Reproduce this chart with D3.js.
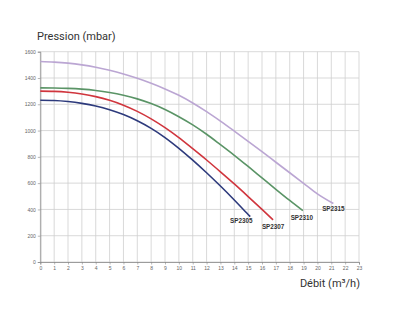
<!DOCTYPE html>
<html>
<head>
<meta charset="utf-8">
<script src="https://cdn.jsdelivr.net/npm/d3@7"></script>
<style>
html,body{margin:0;padding:0;background:#fff;}
svg{display:block;}
</style>
</head>
<body>
<svg id="chart" width="400" height="326"></svg>
<script>
// ---- data ----
const xTicks = d3.range(0, 24);
const yTicks = d3.range(0, 1601, 200);
const seriesNames = ["SP2305", "SP2307", "SP2310", "SP2315"];
const flowSP2305 = [0,1,2,3,4,5,6,7,8,9,10,11,12,13,14,15,15.15];
const presSP2305 = [1231,1229,1221,1207,1187,1159,1122,1075,1017,947,865,775,679,578,472,361,345];
const flowSP2307 = [0,1,2,3,4,5,6,7,8,9,10,11,12,13,14,15,16,16.8];
const presSP2307 = [1300,1298,1291,1278,1258,1230,1193,1146,1089,1022,946,862,776,686,594,498,400,320];
const flowSP2310 = [0,1,2,3,4,5,6,7,8,9,10,11,12,13,14,15,16,17,18,18.95];
const presSP2310 = [1325,1324,1321,1315,1305,1290,1269,1241,1205,1160,1105,1043,972,893,812,727,640,553,468,390];
const flowSP2315 = [0,1,2,3,4,5,6,7,8,9,10,11,12,13,14,15,16,17,18,19,20,21.15];
const presSP2315 = [1525,1521,1513,1500,1482,1459,1431,1398,1360,1317,1268,1210,1144,1072,996,918,839,759,679,599,519,445];
const yTitle = "Pression (mbar)";
const xTitle = "Débit (m³/h)";

// ---- style ----
const colors = ["#2d3a7c", "#d0353d", "#5a9466", "#bba6d3"];
const labelOffsets = [[-9, 6.5], [0, 9.5], [-1, 9.5], [0, 7.5]];

const series = [
  {name: seriesNames[0], x: flowSP2305, y: presSP2305},
  {name: seriesNames[1], x: flowSP2307, y: presSP2307},
  {name: seriesNames[2], x: flowSP2310, y: presSP2310},
  {name: seriesNames[3], x: flowSP2315, y: presSP2315}
];

const svg = d3.select("#chart");
const x = d3.scaleLinear().domain([0, 23]).range([40.3, 359]);
const y = d3.scaleLinear().domain([0, 1600]).range([262, 51.7]);

// grid
const grid = svg.append("g");
grid.selectAll("line.v").data(xTicks).join("line")
  .attr("x1", d => x(d)).attr("x2", d => x(d))
  .attr("y1", y(0)).attr("y2", y(1600))
  .attr("stroke", "#cfcfcf").attr("stroke-width", 0.8);
grid.selectAll("line.h").data(yTicks).join("line")
  .attr("x1", x(0)).attr("x2", x(23))
  .attr("y1", d => y(d)).attr("y2", d => y(d))
  .attr("stroke", "#cfcfcf").attr("stroke-width", 0.8);

// axes
const xAxis = d3.axisBottom(x).tickValues(xTicks).tickSize(2.5).tickPadding(2).tickFormat(d3.format("d"));
const yAxis = d3.axisLeft(y).tickValues(yTicks).tickSize(2.5).tickPadding(2).tickFormat(d3.format("d"));
const gx = svg.append("g").attr("transform", `translate(0,${y(0)})`).call(xAxis);
const gy = svg.append("g").attr("transform", `translate(${x(0)},0)`).call(yAxis);
[gx, gy].forEach(g => {
  g.select(".domain").attr("stroke", "#888").attr("stroke-width", 0.8);
  g.selectAll(".tick line").attr("stroke", "#888").attr("stroke-width", 0.6);
  g.selectAll(".tick text").attr("fill", "#666").attr("font-size", "5px")
    .attr("font-family", "Liberation Sans, Arial, sans-serif");
});

// curves
const line = d3.line().x(d => x(d[0])).y(d => y(d[1])).curve(d3.curveMonotoneX);
series.forEach((s, i) => {
  const pts = s.x.map((v, k) => [v, s.y[k]]);
  svg.append("path").datum(pts)
    .attr("d", line)
    .attr("fill", "none")
    .attr("stroke", colors[i])
    .attr("stroke-width", 1.6);
  const last = pts[pts.length - 1];
  svg.append("text")
    .attr("x", x(last[0]) + labelOffsets[i][0])
    .attr("y", y(last[1]) + labelOffsets[i][1])
    .attr("text-anchor", "middle")
    .attr("font-family", "Liberation Sans, Arial, sans-serif")
    .attr("font-weight", "bold")
    .attr("font-size", "6.3px")
    .attr("fill", "#333")
    .text(s.name);
});

// titles
svg.append("text")
  .attr("x", 37).attr("y", 40)
  .attr("font-family", "Roboto, 'Open Sans', sans-serif")
  .attr("font-size", "11px")
  .attr("fill", "#333")
  .text(yTitle);
svg.append("text")
  .attr("x", 360).attr("y", 287)
  .attr("text-anchor", "end")
  .attr("font-family", "Roboto, 'Open Sans', sans-serif")
  .attr("font-size", "11px")
  .attr("fill", "#333")
  .text(xTitle);
</script>
</body>
</html>
